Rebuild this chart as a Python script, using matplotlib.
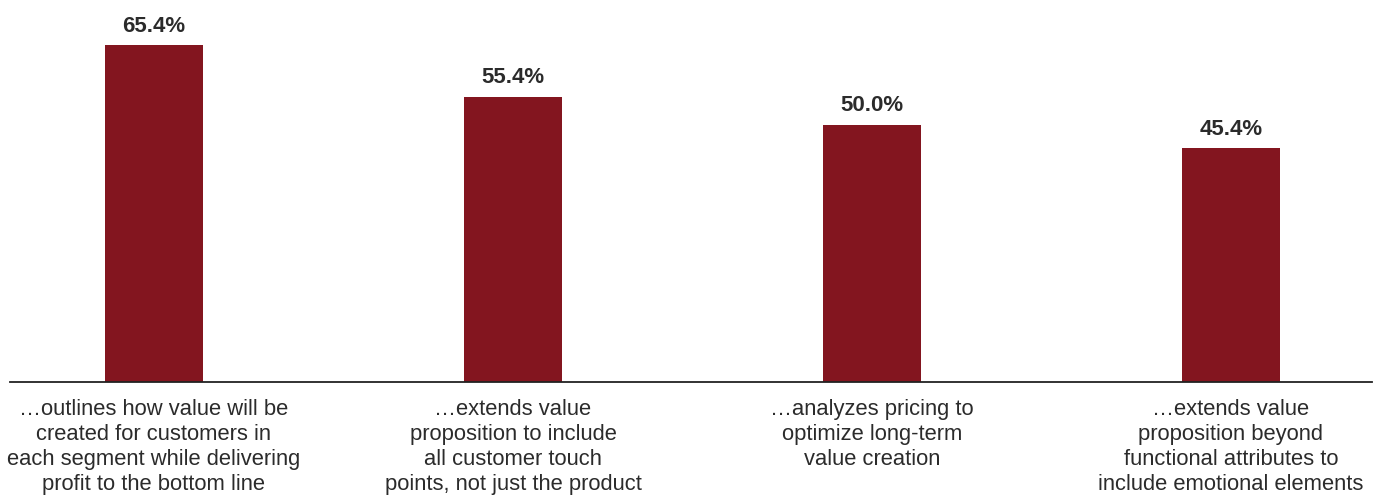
import matplotlib
matplotlib.use("Agg")
import matplotlib.pyplot as plt

plt.rcParams["font.family"] = ["Liberation Sans", "DejaVu Sans"]

categories = [
    "…outlines how value will be\ncreated for customers in\neach segment while delivering\nprofit to the bottom line",
    "…extends value\nproposition to include\nall customer touch\npoints, not just the product",
    "…analyzes pricing to\noptimize long-term\nvalue creation",
    "…extends value\nproposition beyond\nfunctional attributes to\ninclude emotional elements",
]
values = [65.4, 55.4, 50.0, 45.4]
value_labels = ["65.4%", "55.4%", "50.0%", "45.4%"]

bar_color = "#83151F"
text_color = "#2b2b2b"

fig = plt.figure(figsize=(13.85, 4.97), dpi=100)
ax = fig.add_axes([10 / 1385, 1 - 382 / 497, 1362 / 1385, 382 / 497])

x = list(range(len(values)))
bars = ax.bar(x, values, width=0.273, color=bar_color, zorder=2)

for xi, v, lab in zip(x, values, value_labels):
    ax.annotate(lab, (xi, v), xytext=(0, 6), textcoords="offset points",
                ha="center", va="bottom", fontsize=16, fontweight="bold",
                color=text_color)

ax.set_xlim(-0.401, 3.393)
ax.set_ylim(0, 74.2)

ax.set_xticks(x)
ax.set_xticklabels(categories, fontsize=15.8, color=text_color, linespacing=1.25)
ax.tick_params(axis="x", length=0, pad=12)
ax.set_yticks([])

for side in ["top", "right", "left"]:
    ax.spines[side].set_visible(False)
ax.spines["bottom"].set_color("#222222")
ax.spines["bottom"].set_linewidth(1.3)

fig.savefig("out.png", dpi=100)
